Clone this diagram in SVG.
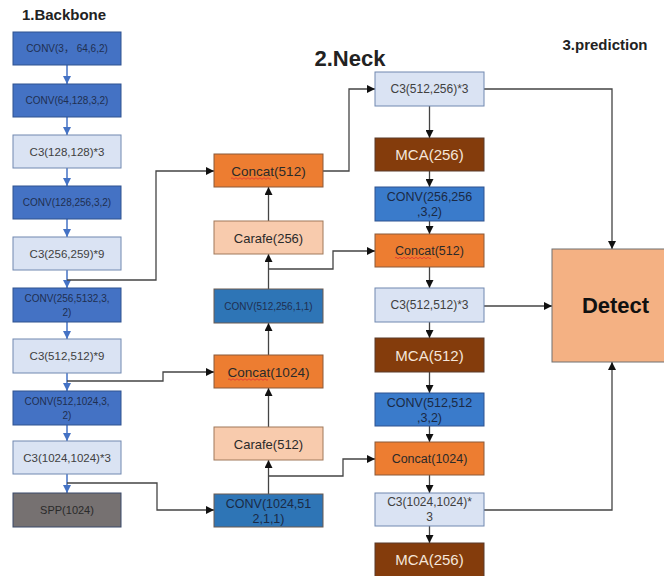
<svg xmlns="http://www.w3.org/2000/svg" width="664" height="576" viewBox="0 0 664 576">
<defs>
<marker id="ah" markerUnits="userSpaceOnUse" markerWidth="8" markerHeight="8" refX="8" refY="4" orient="auto"><path d="M0,0 L8,4 L0,8 z" fill="#111"/></marker>
<marker id="ab" markerUnits="userSpaceOnUse" markerWidth="8" markerHeight="8" refX="8" refY="4" orient="auto"><path d="M0,0 L8,4 L0,8 z" fill="#4472C4"/></marker>
</defs>
<style>
text{font-family:"Liberation Sans","Noto Sans CJK SC",sans-serif;text-anchor:middle}
.bconv{fill:#4472C4;stroke:#2F528F;stroke-width:1}
.c3{fill:#DAE3F3;stroke:#7088B0;stroke-width:1}
.spp{fill:#767171;stroke:#3A4A6A;stroke-width:1}
.nconv{fill:#2E75B6;stroke:#6A5A50;stroke-width:1}
.concat{fill:#ED7D31;stroke:#8A5A3A;stroke-width:1}
.carafe{fill:#F8CBAD;stroke:#A0785A;stroke-width:1}
.mca{fill:#843C0C;stroke:#5A3A2A;stroke-width:1}
.rconv{fill:#3A7BCB;stroke:#2F528F;stroke-width:1}
.detect{fill:#F4B183;stroke:#707070;stroke-width:1}
.t9{font-size:10px;fill:#1F2F50}
.tl{font-size:11.5px;fill:#404040}
.t12{font-size:13.5px;fill:#2A2A2A}
.tr{font-size:12.5px;fill:#2A2A2A}
.tn{font-size:12.5px;fill:#1A2A45}
.tm{font-size:15px;fill:#F5E6DA}
.ln{fill:none;stroke:#444;stroke-width:1.3}
.lb{fill:none;stroke:#4472C4;stroke-width:1.5}
.sq{fill:none;stroke:#E03030;stroke-width:0.8}
.title{font-weight:bold;fill:#222}
</style>
<text class="title" x="64" y="20" style="font-size:15px">1.Backbone</text>
<text class="title" x="350" y="66" style="font-size:22px">2.Neck</text>
<text class="title" x="605" y="50" style="font-size:15px">3.prediction</text>

<g id="connectors">
<path class="lb" d="M67,65 V84" marker-end="url(#ab)"/>
<path class="lb" d="M67,117 V135" marker-end="url(#ab)"/>
<path class="lb" d="M67,168 V186" marker-end="url(#ab)"/>
<path class="lb" d="M67,219 V237" marker-end="url(#ab)"/>
<path class="lb" d="M67,270 V288" marker-end="url(#ab)"/>
<path class="lb" d="M67,322 V339" marker-end="url(#ab)"/>
<path class="lb" d="M67,373 V391" marker-end="url(#ab)"/>
<path class="lb" d="M67,425 V441" marker-end="url(#ab)"/>
<path class="lb" d="M67,474 V493" marker-end="url(#ab)"/>
<path class="ln" d="M67,280 H156 V171 H214" marker-end="url(#ah)"/>
<path class="ln" d="M67,381 H163 V372 H214" marker-end="url(#ah)"/>
<path class="ln" d="M67,483 H157 V510 H214" marker-end="url(#ah)"/>
<path class="ln" d="M268.5,494 V460" marker-end="url(#ah)"/>
<path class="ln" d="M268.5,476 H343 V459 H375" marker-end="url(#ah)"/>
<path class="ln" d="M268.5,427 V388" marker-end="url(#ah)"/>
<path class="ln" d="M268.5,355 V323" marker-end="url(#ah)"/>
<path class="ln" d="M268.5,289 V254" marker-end="url(#ah)"/>
<path class="ln" d="M268.5,269 H333 V251 H375" marker-end="url(#ah)"/>
<path class="ln" d="M268.5,221 V187" marker-end="url(#ah)"/>
<path class="ln" d="M323,171 H349 V89 H375" marker-end="url(#ah)"/>
<path class="ln" d="M429.5,106 V138" marker-end="url(#ah)"/>
<path class="ln" d="M429.5,171 V187" marker-end="url(#ah)"/>
<path class="ln" d="M429.5,221 V234" marker-end="url(#ah)"/>
<path class="ln" d="M429.5,267 V288" marker-end="url(#ah)"/>
<path class="ln" d="M429.5,322 V338" marker-end="url(#ah)"/>
<path class="ln" d="M429.5,372 V393" marker-end="url(#ah)"/>
<path class="ln" d="M429.5,426 V442" marker-end="url(#ah)"/>
<path class="ln" d="M429.5,475 V493" marker-end="url(#ah)"/>
<path class="ln" d="M429.5,526 V543" marker-end="url(#ah)"/>
<path class="ln" d="M484,89 H612 V249" marker-end="url(#ah)"/>
<path class="ln" d="M484,306 H552" marker-end="url(#ah)"/>
<path class="ln" d="M484,510 H612 V362" marker-end="url(#ah)"/>
</g>

<g id="b1"><rect class="bconv" x="13" y="32" width="108" height="33"/><text class="t9" x="67" y="52">CONV(3，  64,6,2)</text></g>
<g id="b2"><rect class="bconv" x="13" y="84" width="108" height="33"/><text class="t9" x="67" y="104">CONV(64,128,3,2)</text></g>
<g id="b3"><rect class="c3" x="13" y="135" width="108" height="33"/><text class="tl" x="67" y="156">C3(128,128)*3</text></g>
<g id="b4"><rect class="bconv" x="13" y="186" width="108" height="33"/><text class="t9" x="67" y="206">CONV(128,256,3,2)</text></g>
<g id="b5"><rect class="c3" x="13" y="237" width="108" height="33"/><text class="tl" x="67" y="258">C3(256,259)*9</text></g>
<g id="b6"><rect class="bconv" x="13" y="288" width="108" height="34"/><text class="t9" x="67" y="302">CONV(256,5132,3,</text><text class="t9" x="67" y="316">2)</text></g>
<g id="b7"><rect class="c3" x="13" y="339" width="108" height="34"/><text class="tl" x="67" y="360">C3(512,512)*9</text></g>
<g id="b8"><rect class="bconv" x="13" y="391" width="108" height="34"/><text class="t9" x="67" y="405">CONV(512,1024,3,</text><text class="t9" x="67" y="419">2)</text></g>
<g id="b9"><rect class="c3" x="13" y="441" width="108" height="33"/><text class="tl" x="67" y="462">C3(1024,1024)*3</text></g>
<g id="b10"><rect class="spp" x="13" y="493" width="108" height="34"/><text x="67" y="514" style="font-size:11px;fill:#2A2A2A">SPP(1024)</text></g>

<g id="n1"><rect class="concat" x="214" y="154" width="109" height="33"/><text class="t12" x="268.5" y="175.5">Concat(512)</text><path class="sq" d="M231,178.5 q1,-1.5 2,0 t2,0 t2,0 t2,0 t2,0 t2,0 t2,0 t2,0 t2,0 t2,0 t2,0 t2,0 t2,0 t2,0 t2,0 t2,0 t2,0 t2,0 t2,0 t2,0"/></g>
<g id="n2"><rect class="carafe" x="214" y="221" width="109" height="33"/><text class="t12" x="268.5" y="242.5" style="font-size:13px">Carafe(256)</text></g>
<g id="n3"><rect class="nconv" x="214" y="289" width="109" height="34"/><text class="t9" x="268.5" y="310">CONV(512,256,1,1)</text></g>
<g id="n4"><rect class="concat" x="214" y="355" width="109" height="33"/><text class="t12" x="268.5" y="376.5">Concat(1024)</text><path class="sq" d="M228,379.5 q1,-1.5 2,0 t2,0 t2,0 t2,0 t2,0 t2,0 t2,0 t2,0 t2,0 t2,0 t2,0 t2,0 t2,0 t2,0 t2,0 t2,0 t2,0 t2,0 t2,0 t2,0"/></g>
<g id="n5"><rect class="carafe" x="214" y="427" width="109" height="33"/><text class="t12" x="268.5" y="448.5" style="font-size:13px">Carafe(512)</text></g>
<g id="n6"><rect class="nconv" x="214" y="494" width="109" height="33"/><text class="tn" x="268.5" y="508">CONV(1024,51</text><text class="tn" x="268.5" y="523">2,1,1)</text></g>

<g id="r1"><rect class="c3" x="375" y="72" width="109" height="34"/><text class="tl" x="429.5" y="93" style="font-size:12px">C3(512,256)*3</text></g>
<g id="r2"><rect class="mca" x="375" y="138" width="109" height="33"/><text class="tm" x="429.5" y="160">MCA(256)</text></g>
<g id="r3"><rect class="rconv" x="375" y="187" width="109" height="34"/><text class="tn" x="429.5" y="201">CONV(256,256</text><text class="tn" x="429.5" y="216">,3,2)</text></g>
<g id="r4"><rect class="concat" x="375" y="234" width="109" height="33"/><text class="tr" x="429.5" y="255">Concat(512)</text><path class="sq" d="M395,258 q1,-1.5 2,0 t2,0 t2,0 t2,0 t2,0 t2,0 t2,0 t2,0 t2,0 t2,0 t2,0 t2,0 t2,0 t2,0 t2,0 t2,0 t2,0 t2,0"/></g>
<g id="r5"><rect class="c3" x="375" y="288" width="109" height="34"/><text class="tl" x="429.5" y="309" style="font-size:12px">C3(512,512)*3</text></g>
<g id="r6"><rect class="mca" x="375" y="338" width="109" height="34"/><text class="tm" x="429.5" y="360.5">MCA(512)</text></g>
<g id="r7"><rect class="rconv" x="375" y="393" width="109" height="33"/><text class="tn" x="429.5" y="407">CONV(512,512</text><text class="tn" x="429.5" y="422">,3,2)</text></g>
<g id="r8"><rect class="concat" x="375" y="442" width="109" height="33"/><text class="tr" x="429.5" y="463">Concat(1024)</text></g>
<g id="r9"><rect class="c3" x="375" y="493" width="109" height="33"/><text class="tl" x="429.5" y="506" style="font-size:12px">C3(1024,1024)*</text><text class="tl" x="429.5" y="521" style="font-size:12px">3</text></g>
<g id="r10"><rect class="mca" x="375" y="543" width="109" height="34"/><text class="tm" x="429.5" y="565">MCA(256)</text></g>

<g id="detect"><rect class="detect" x="552" y="249" width="120" height="113"/><text x="615.5" y="313" style="font-size:22px;font-weight:bold;fill:#111">Detect</text></g>
</svg>
